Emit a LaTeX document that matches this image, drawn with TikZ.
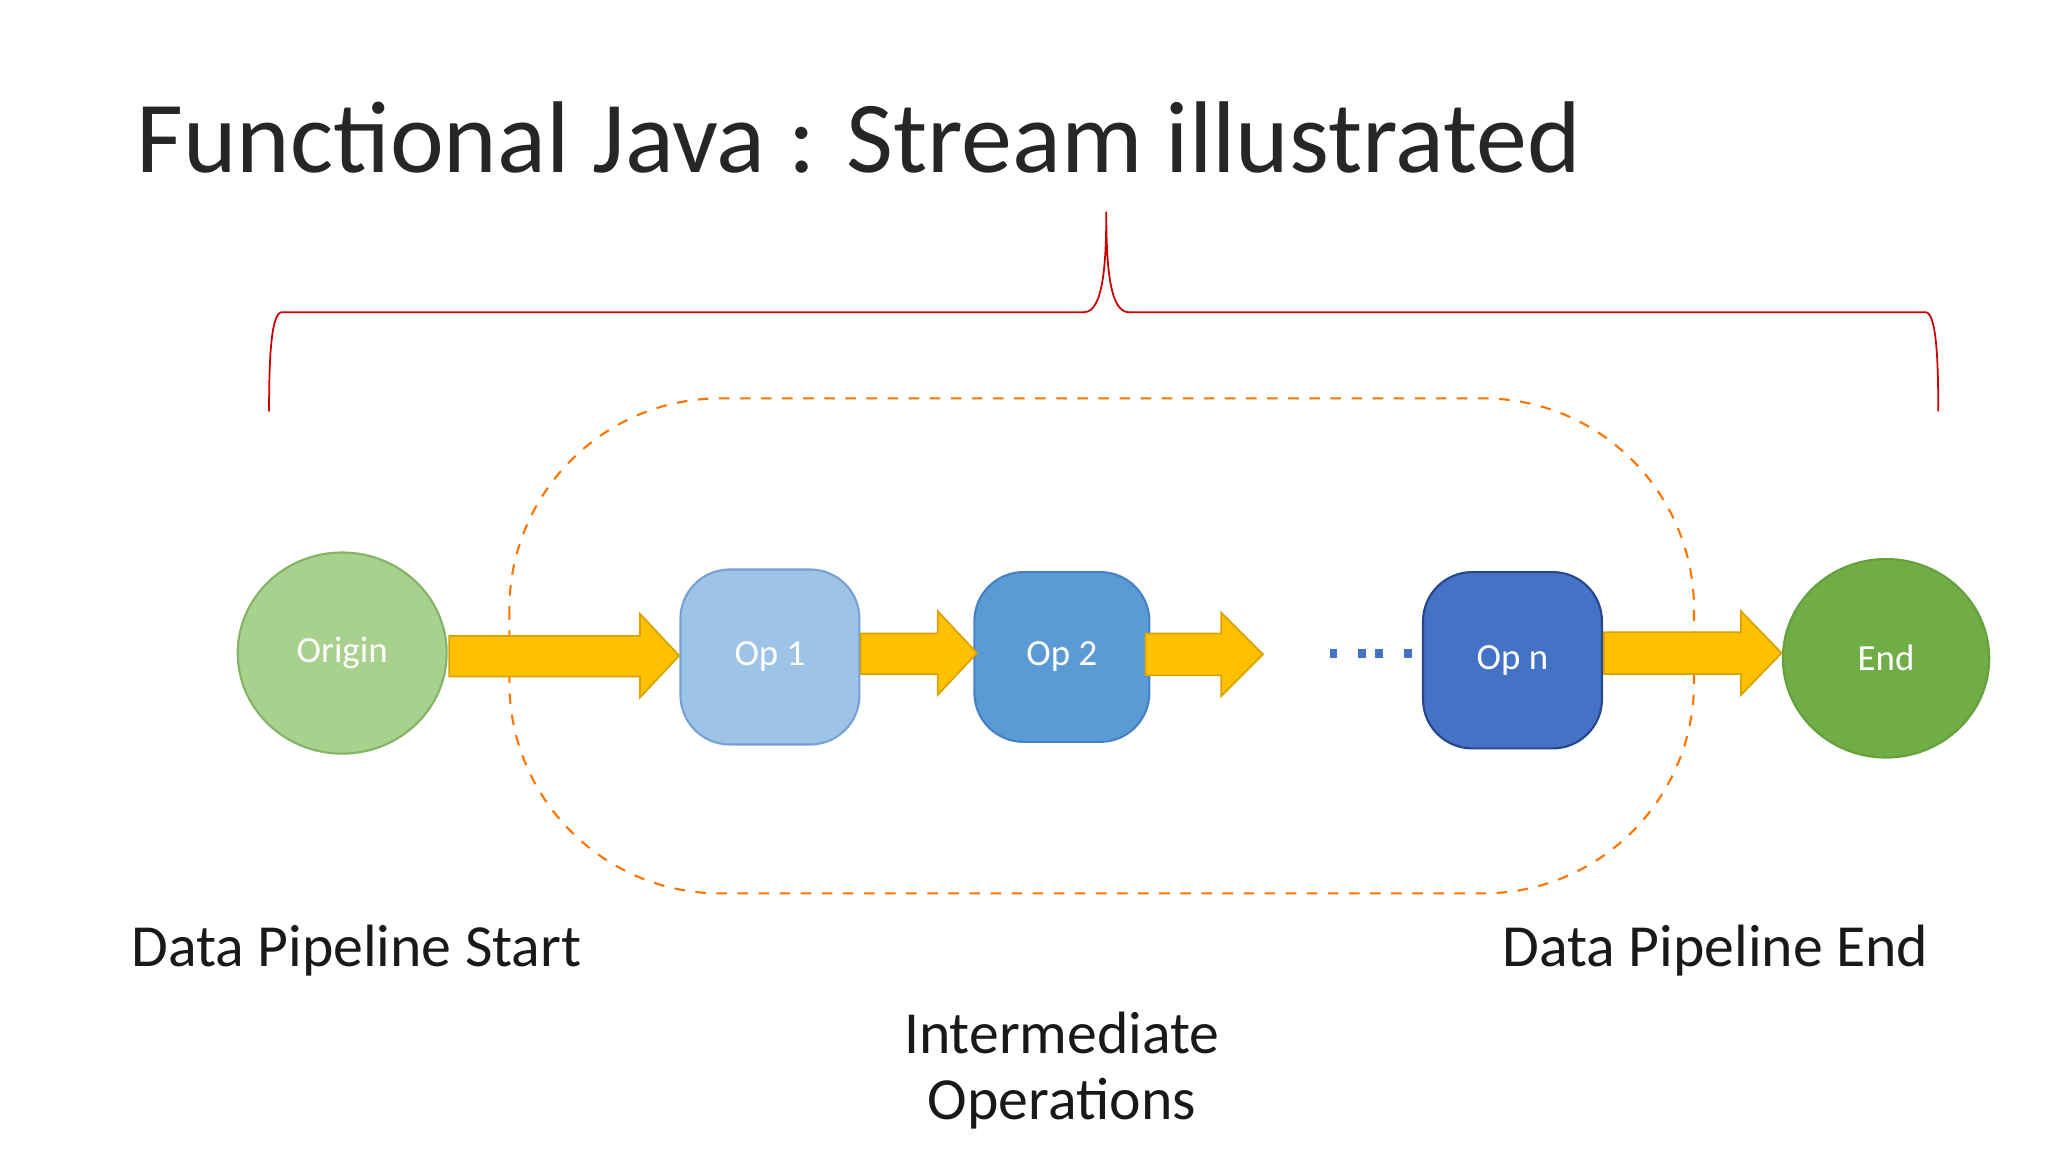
\documentclass[tikz,border=0pt]{standalone}
\usepackage{fontspec}
\setmainfont{Carlito}
\usetikzlibrary{positioning, shapes.geometric}
\definecolor{arrowfill}{HTML}{FFC000}
\definecolor{arrowline}{HTML}{D9A400}
\definecolor{origfill}{RGB}{169,209,142}
\definecolor{origline}{RGB}{130,180,100}
\definecolor{op1fill}{RGB}{157,195,230}
\definecolor{op1line}{RGB}{120,160,210}
\definecolor{op2fill}{RGB}{91,155,213}
\definecolor{op2line}{RGB}{70,130,195}
\definecolor{opnfill}{RGB}{68,114,196}
\definecolor{opnline}{RGB}{40,70,140}
\definecolor{endfill}{RGB}{112,173,71}
\definecolor{endline}{RGB}{100,160,60}
\tikzset{
  op/.style = {draw, rounded corners=14, text=white, font=\fontsize{10.5}{12}\selectfont,
    minimum width=137*0.01306cm, minimum height=134*0.01306cm, line width=0.6pt},
  endpt/.style = {ellipse, draw, text=white, font=\fontsize{10.5}{12}\selectfont, line width=0.6pt},
  blockarrow/.style = {fill=arrowfill, draw=arrowline, line width=0.5pt},
  label/.style = {font=\fontsize{17}{20}\selectfont, text=black!90}
}
\begin{document}
\begin{tikzpicture}[x=0.01306cm, y=-0.01306cm]
\useasboundingbox (0,0) rectangle (1568,882);
% title
\node[anchor=base west, font=\fontsize{29}{34}\selectfont, text=black!85] (title) at (95,132) {Functional Java : Stream illustrated};
% brace
\draw[red!80!black, line width=0.5pt] (206,315) .. controls (206,270) and (208,239) .. (216,239)
  -- (830,239) .. controls (845,239) and (847,200) .. (847,162)
  .. controls (847,200) and (849,239) .. (864,239) -- (1474,239)
  .. controls (1482,239) and (1484,270) .. (1484,315);
% dashed box
\draw[orange!90!red, dashed, line width=0.6pt, rounded corners=60] (390,305) rectangle (1297,684);
% nodes
\node[endpt, fill=origfill, draw=origline,
  minimum width=160*0.01306cm, minimum height=154*0.01306cm] (origin) at (262,500) {Origin};
\node[op, fill=op1fill, draw=op1line] (op1) at (589.5,503) {Op 1};
\node[op, fill=op2fill, draw=op2line, minimum width=134*0.01306cm, minimum height=130*0.01306cm] (op2) at (813,503) {Op 2};
\node[op, fill=opnfill, draw=opnline, minimum height=135*0.01306cm] (opn) at (1158,505.5) {Op n};
\node[endpt, fill=endfill, draw=endline,
  minimum width=158*0.01306cm, minimum height=152*0.01306cm] (end) at (1444,504) {End};
% block arrows
\draw[blockarrow] (344,487) -- (490,487) -- (490,470) -- (520,502) -- (490,534) -- (490,518) -- (344,518) -- cycle;
\draw[blockarrow] (659,485) -- (718,485) -- (718,468) -- (748,500) -- (718,532) -- (718,516) -- (659,516) -- cycle;
\draw[blockarrow] (877,485) -- (935,485) -- (935,469) -- (967,501) -- (935,533) -- (935,517) -- (877,517) -- cycle;
\draw[blockarrow] (1228,484) -- (1333,484) -- (1333,468) -- (1364,500) -- (1333,532) -- (1333,516) -- (1228,516) -- cycle;
% dots
\foreach \x in {1021,1043,1056,1078}
  \fill[opnfill] (\x-3,497) rectangle (\x+3,504);
% labels
\node[label, anchor=base west] (start) at (91,740) {Data Pipeline Start};
\node[label, anchor=base east] (pend) at (1486,740) {Data Pipeline End};
\node[label, align=center, anchor=north] (inter) at (813,765) {Intermediate\\[-1pt]Operations};
\end{tikzpicture}
\end{document}
